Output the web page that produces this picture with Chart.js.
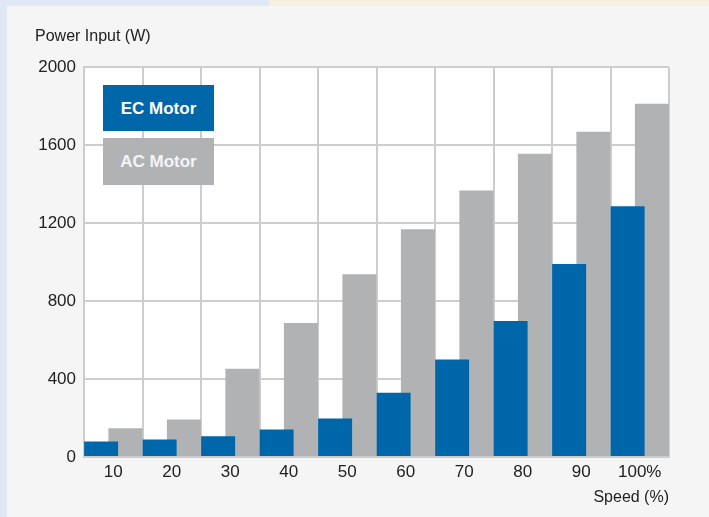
<!DOCTYPE html>
<html lang="en">
<head>
  <meta charset="UTF-8">
  <title>Power Input vs Speed</title>
  <style>
    html, body { margin: 0; padding: 0; }
    body { width: 709px; height: 517px; position: relative; overflow: hidden; background: #dfe8f4; font-family: "Liberation Sans", Arial, sans-serif; }
    .strip-right { position: absolute; left: 269px; top: 0; width: 440px; height: 6px; background: #f8efe3; }
    .panel { position: absolute; left: 7px; top: 6px; width: 702px; height: 511px; background: #f5f5f5; }
    #wrap { position: absolute; left: 0; top: 0; width: 709px; height: 517px; }
    .key { position: absolute; left: 103px; width: 111px; color: #fff; font-weight: bold; font-size: 17px; text-align: center; }
    .key.ec { top: 85px; height: 46px; line-height: 47px; background: #0066aa; }
    .key.ac { top: 138px; height: 47px; line-height: 48px; background: #b1b2b4; color: #f4f4f4; }
  </style>
</head>
<body>
  <div class="strip-right"></div>
  <div class="panel"></div>
  <div id="wrap"><canvas id="grafico" width="709" height="517"></canvas></div>
  <div class="key ec">EC Motor</div>
  <div class="key ac">AC Motor</div>

  <script src="https://cdn.jsdelivr.net/npm/chart.js"></script>
  <script>
    // datos
    const speeds = ['10', '20', '30', '40', '50', '60', '70', '80', '90', '100%'];
    const ecMotor = [80, 90, 107, 141, 198, 330, 500, 698, 990, 1286];
    const acMotor = [147, 193, 453, 688, 938, 1168, 1367, 1556, 1669, 1812];
    const yTicks = [0, 400, 800, 1200, 1600, 2000];

    const gridColor = '#cdcdcd';
    const textColor = '#222222';
    const fuente = { family: '"Liberation Sans", Arial, sans-serif', size: 16 };

    const lienzo = document.querySelector('#grafico');

    // fondo blanco del área de trazado
    const fondoBlanco = {
      id: 'fondoBlanco',
      beforeDraw(chart) {
        const { ctx, chartArea: a } = chart;
        ctx.save();
        ctx.fillStyle = '#ffffff';
        ctx.fillRect(a.left, a.top, a.right - a.left, a.bottom - a.top);
        ctx.restore();
      }
    };

    const grafico = new Chart(lienzo, {
      type: 'bar',
      data: {
        labels: speeds,
        datasets: [
          { label: 'EC Motor', data: ecMotor, backgroundColor: '#0066aa' },
          { label: 'AC Motor', data: acMotor, backgroundColor: '#b1b2b4' }
        ]
      },
      plugins: [fondoBlanco],
      options: {
        responsive: false,
        animation: false,
        categoryPercentage: 0.83,
        barPercentage: 1.4,
        layout: { padding: { left: 35, right: 40, top: 6, bottom: 0 } },
        plugins: {
          legend: { display: false },
          tooltip: { enabled: false },
          title: {
            display: true,
            text: 'Power Input (W)',
            align: 'start',
            color: textColor,
            font: { family: fuente.family, size: 16, weight: 'normal' },
            padding: { top: 21, bottom: 21 }
          }
        },
        scales: {
          x: {
            grid: { color: gridColor, lineWidth: 2, drawTicks: false },
            border: { color: gridColor, width: 2 },
            ticks: { color: textColor, font: { family: fuente.family, size: 17 }, padding: 5, maxRotation: 0 },
            title: {
              display: true,
              text: 'Speed (%)',
              align: 'end',
              color: textColor,
              font: fuente,
              padding: { top: 6, bottom: 10 }
            },
            afterFit: scale => { scale.height = 60; }
          },
          y: {
            min: 0,
            max: 2000,
            afterBuildTicks: scale => { scale.ticks = yTicks.map(v => ({ value: v })); },
            grid: { color: gridColor, lineWidth: 2, drawTicks: false },
            border: { color: gridColor, width: 2 },
            ticks: { color: textColor, font: { family: fuente.family, size: 17 }, padding: 8, callback: v => String(v) },
            afterFit: scale => { scale.width = 49; }
          }
        }
      }
    });
  </script>
</body>
</html>
